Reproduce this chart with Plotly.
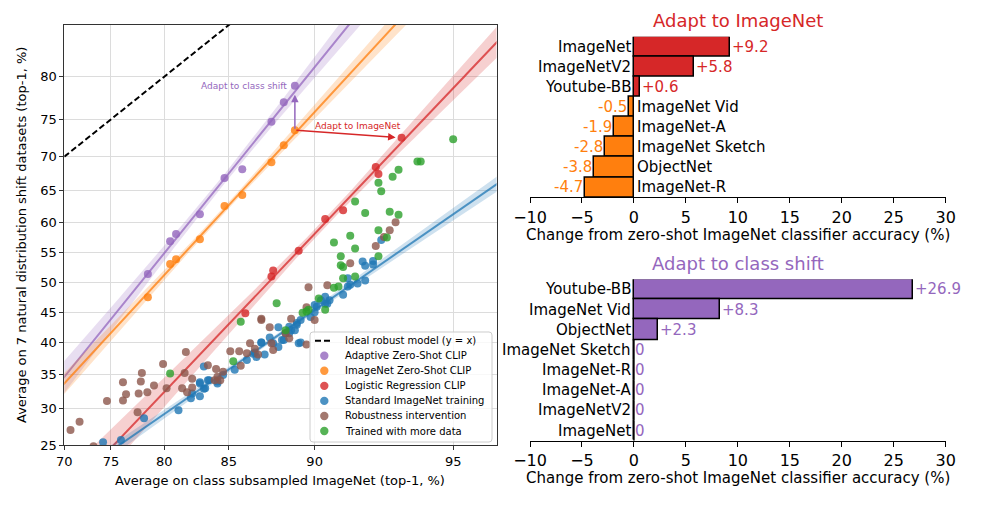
import numpy as np
import plotly.graph_objects as go

# ---------------- Left panel data (percent) ----------------
clip_x = [78.55, 80.5, 81.0, 82.9, 84.7, 85.9, 87.7, 88.4, 89.0]
adaptive_y = [51.4, 56.9, 58.1, 61.3, 66.9, 68.2, 74.7, 77.1, 79.0]
zeroshot_y = [47.5, 53.1, 53.9, 57.2, 62.6, 64.3, 69.2, 71.6, 73.6]
logreg_x = [86.1, 87.7, 87.8, 89.2, 90.5, 91.3, 92.6, 92.7, 93.5]
logreg_y = [44.8, 51.0, 52.0, 55.3, 60.5, 61.9, 68.5, 67.5, 72.6]

std_x = [74.2, 76.0, 78.2, 81.2, 82.2, 82.3, 82.9, 82.9, 83.2, 83.2, 83.6, 84.2, 84.6, 85.4, 86.2,
         86.6, 87.1, 87.3, 86.8, 87.8, 88.1, 88.3, 88.7, 89.0, 89.1, 89.3, 89.2, 89.8, 90.0, 90.1,
         90.3, 90.6, 90.7, 91.3, 91.5, 91.6, 91.9, 92.2, 90.5, 90.0, 90.5, 91.5, 92.1, 92.2, 92.5,
         92.5, 92.8, 89.3, 88.4, 88.8, 88.5, 83.5, 82.9, 83.3, 84.2, 86.7, 87.1, 87.6, 89.1, 88.7, 88.1]
std_y = [25.4, 25.7, 28.6, 29.7, 31.4, 32.1, 31.7, 33.6, 32.8, 36.2, 34.1, 33.9, 34.9, 35.7, 37.2,
         38.2, 40.0, 38.1, 37.7, 39.9, 39.3, 40.4, 41.5, 42.0, 43.2, 43.7, 39.9, 44.2, 45.0, 45.9,
         47.0, 46.4, 47.0, 47.9, 49.3, 49.6, 49.8, 50.3, 47.6, 46.2, 46.4, 50.7, 53.5, 52.8, 53.6,
         53.0, 57.1, 40.0, 40.4, 42.0, 41.5, 34.1, 33.8, 32.9, 33.6, 38.4, 40.0, 40.8, 42.9, 42.6, 42.5]

rob_x = [70.7, 71.7, 73.2, 74.6, 76.2, 76.5, 76.2, 77.6, 77.7, 77.9, 78.0, 78.5, 79.1, 79.9, 80.2,
         81.5, 81.7, 81.8, 81.9, 82.3, 82.3, 83.5, 84.1, 84.2, 84.6, 84.4, 84.0, 85.1, 85.7, 86.2,
         86.4, 86.7, 86.9, 85.8, 87.1, 87.6, 87.1, 87.7, 87.8, 88.5, 88.7, 88.8, 89.6, 89.7, 89.6,
         90.0, 90.6, 91.6, 92.6, 92.9, 93.1, 93.3]
rob_y = [27.0, 28.1, 24.9, 31.0, 31.1, 32.0, 33.8, 29.4, 32.1, 33.9, 35.2, 32.3, 33.3, 36.6, 32.9,
         32.9, 35.2, 38.5, 32.3, 33.0, 34.3, 36.4, 35.8, 34.6, 35.4, 34.1, 34.1, 38.6, 38.6, 38.3,
         39.9, 39.0, 38.1, 36.3, 43.7, 42.5, 43.9, 39.9, 38.8, 41.5, 40.7, 43.9, 39.7, 49.2, 45.8,
         43.7, 49.5, 53.2, 56.1, 57.6, 58.7, 60.0]

more_x = [80.5, 85.3, 85.8, 88.0, 89.4, 89.6, 88.5, 89.7, 90.2, 90.5, 90.9, 91.1, 91.3, 91.3, 91.2,
          91.2, 91.8, 91.8, 90.9, 91.6, 92.7, 92.7, 93.0, 92.2, 91.8, 93.1, 93.4, 92.7, 92.8, 93.2,
          93.4, 94.0, 94.1, 95.0]
more_y = [35.1, 37.0, 43.4, 46.5, 44.9, 45.1, 42.0, 45.4, 47.3, 45.4, 49.1, 49.3, 50.7, 52.6, 52.9,
          54.4, 51.0, 55.7, 56.7, 57.8, 54.4, 58.7, 57.5, 61.5, 63.3, 61.7, 61.2, 66.2, 64.9, 67.1,
          68.1, 69.3, 69.3, 72.4]

x_ticks = [70, 75, 80, 85, 90, 95]
y_ticks = [25, 30, 35, 40, 45, 50, 55, 60, 65, 70, 75, 80]
x_lim = [70, 96]
y_lim = [25, 85]

# ---------------- Right panel data ----------------
top_names = ["ImageNet", "ImageNetV2", "Youtube-BB", "ImageNet Vid", "ImageNet-A",
             "ImageNet Sketch", "ObjectNet", "ImageNet-R"]
top_vals = [9.2, 5.8, 0.6, -0.5, -1.9, -2.8, -3.8, -4.7]
bot_names = ["Youtube-BB", "ImageNet Vid", "ObjectNet", "ImageNet Sketch", "ImageNet-R",
             "ImageNet-A", "ImageNetV2", "ImageNet"]
bot_vals = [26.9, 8.3, 2.3, 0, 0, 0, 0, 0]
bar_ticks = [-10, -5, 0, 5, 10, 15, 20, 25, 30]

BLUE, ORANGE, GREEN, RED, PURPLE, BROWN = "#1f77b4", "#ff7f0e", "#2ca02c", "#d62728", "#9467bd", "#8c564b"
FONT = "DejaVu Sans"
W, H = 984, 507


def logit(p):
    p = np.asarray(p, dtype=float) / 100.0
    return np.log(p / (1 - p))


def rgba(hexc, a):
    h = hexc.lstrip("#")
    return "rgba(%d,%d,%d,%.3f)" % (int(h[0:2], 16), int(h[2:4], 16), int(h[4:6], 16), a)


def fit_band(xs, ys):
    X = logit(xs)
    Y = logit(ys)
    n = len(X)
    b, a = np.polyfit(X, Y, 1)
    xg = np.linspace(logit(x_lim[0]) - 0.02, logit(x_lim[1]) + 0.02, 240)
    yh = a + b * xg
    resid = Y - (a + b * X)
    s = np.sqrt(np.sum(resid ** 2) / (n - 2))
    sxx = np.sum((X - X.mean()) ** 2)
    dof = n - 2
    t = 1.96 + (1.96 ** 3 + 1.96) / (4 * dof)
    se = s * np.sqrt(1.0 / n + (xg - X.mean()) ** 2 / sxx)
    return xg, yh, yh - t * se, yh + t * se


fig = go.Figure()

# ideal line y = x
fig.add_trace(go.Scatter(x=logit(x_lim), y=logit(x_lim), mode="lines",
                         line=dict(color="black", width=2, dash="6px,3px"),
                         name="Ideal robust model (y = x)", xaxis="x", yaxis="y"))

groups = [
    (clip_x, adaptive_y, PURPLE),
    (clip_x, zeroshot_y, ORANGE),
    (logreg_x, logreg_y, RED),
    (std_x, std_y, BLUE),
]
for gx, gy, col in groups:
    xg, yh, lo, hi = fit_band(gx, gy)
    fig.add_trace(go.Scatter(x=np.concatenate([xg, xg[::-1]]), y=np.concatenate([lo, hi[::-1]]),
                             fill="toself", fillcolor=rgba(col, 0.22), line=dict(width=0),
                             mode="lines", hoverinfo="skip", xaxis="x", yaxis="y"))
    fig.add_trace(go.Scatter(x=xg, y=yh, mode="lines", line=dict(color=rgba(col, 0.75), width=2),
                             hoverinfo="skip", xaxis="x", yaxis="y"))

scatter_sets = [
    (clip_x, adaptive_y, PURPLE, "Adaptive Zero-Shot CLIP"),
    (clip_x, zeroshot_y, ORANGE, "ImageNet Zero-Shot CLIP"),
    (logreg_x, logreg_y, RED, "Logistic Regression CLIP"),
    (std_x, std_y, BLUE, "Standard ImageNet training"),
    (rob_x, rob_y, BROWN, "Robustness intervention"),
    (more_x, more_y, GREEN, "Trained with more data"),
]
for sx, sy, col, nm in scatter_sets:
    fig.add_trace(go.Scatter(x=logit(sx), y=logit(sy), mode="markers", name=nm,
                             marker=dict(color=col, size=8, opacity=0.8, line=dict(width=0)),
                             xaxis="x", yaxis="y"))

# ---------------- bar charts ----------------
def bar_colors(vals, pos, neg):
    return [pos if v >= 0 else neg for v in vals]

fig.add_trace(go.Bar(x=top_vals, y=list(range(len(top_vals))), orientation="h", width=1,
                     marker=dict(color=bar_colors(top_vals, RED, ORANGE), line=dict(color="black", width=1.5)),
                     xaxis="x2", yaxis="y2"))
fig.add_trace(go.Bar(x=bot_vals, y=list(range(len(bot_vals))), orientation="h", width=1,
                     marker=dict(color=PURPLE, line=dict(color="black", width=1.5)),
                     xaxis="x3", yaxis="y3"))

annotations = []
shapes = []


def bar_labels(names, vals, xr, yr, pos_col, neg_col):
    for i, (nm, v) in enumerate(zip(names, vals)):
        if v >= 0:
            annotations.append(dict(x=0, y=i, xref=xr, yref=yr, text=nm, showarrow=False,
                                    xanchor="right", yanchor="middle", xshift=-1,
                                    font=dict(size=15, color="black", family=FONT)))
        else:
            annotations.append(dict(x=0, y=i, xref=xr, yref=yr, text=nm, showarrow=False,
                                    xanchor="left", yanchor="middle", xshift=1,
                                    font=dict(size=15, color="black", family=FONT)))
        if v > 0:
            annotations.append(dict(x=v, y=i, xref=xr, yref=yr, text="+%.1f" % v, showarrow=False,
                                    xanchor="left", yanchor="middle", xshift=0,
                                    font=dict(size=15, color=pos_col, family=FONT)))
        elif v < 0:
            annotations.append(dict(x=v, y=i, xref=xr, yref=yr, text="-%.1f" % abs(v), showarrow=False,
                                    xanchor="right", yanchor="middle", xshift=0,
                                    font=dict(size=15, color=neg_col, family=FONT)))
        else:
            annotations.append(dict(x=0, y=i, xref=xr, yref=yr, text="0", showarrow=False,
                                    xanchor="left", yanchor="middle", xshift=-1,
                                    font=dict(size=15, color=pos_col, family=FONT)))
            shapes.append(dict(type="line", xref=xr, yref=yr, x0=0, x1=0, y0=i - 0.5, y1=i + 0.5,
                               line=dict(color="black", width=1.5)))


bar_labels(top_names, top_vals, "x2", "y2", RED, ORANGE)
bar_labels(bot_names, bot_vals, "x3", "y3", PURPLE, PURPLE)

# arrows and texts on scatter
ax0, ay0 = float(logit(clip_x[-1])), float(logit(zeroshot_y[-1]))
annotations.append(dict(x=float(logit(clip_x[-1])), y=float(logit(adaptive_y[-1])), ax=ax0, ay=ay0,
                        xref="x", yref="y", axref="x", ayref="y", text="", showarrow=True,
                        arrowhead=2, arrowsize=1, arrowwidth=1.5, arrowcolor=PURPLE, standoff=9))
annotations.append(dict(x=float(logit(logreg_x[-1])), y=float(logit(logreg_y[-1])), ax=ax0, ay=ay0,
                        xref="x", yref="y", axref="x", ayref="y", text="", showarrow=True,
                        arrowhead=2, arrowsize=1, arrowwidth=1.5, arrowcolor=RED, standoff=6))
annotations.append(dict(x=float(logit(clip_x[-1])), y=float(logit(adaptive_y[-1])), xref="x", yref="y",
                        text="Adapt to class shift", showarrow=False, xanchor="right", yanchor="middle",
                        xshift=-6, font=dict(size=9, color=PURPLE, family=FONT)))
annotations.append(dict(x=(ax0 + float(logit(logreg_x[-1]))) / 2, y=(ay0 + float(logit(logreg_y[-1]))) / 2,
                        xref="x", yref="y", text="Adapt to ImageNet", showarrow=False,
                        xanchor="center", yanchor="middle",
                        xshift=10, yshift=8, font=dict(size=9, color=RED, family=FONT)))


def paper_text(px, py, text, size, color, angle=0):
    return dict(x=px / W, y=1 - py / H, xref="paper", yref="paper", text=text, showarrow=False,
                xanchor="center", yanchor="middle", textangle=angle,
                font=dict(size=size, color=color, family=FONT))


annotations += [
    paper_text(280, 480, "Average on class subsampled ImageNet (top-1, %)", 13, "black"),
    paper_text(22, 235, "Average on 7 natural distribution shift datasets (top-1, %)", 13, "black", -90),
    paper_text(738, 235, "Change from zero-shot ImageNet classifier accuracy (%)", 15, "black"),
    paper_text(738, 478, "Change from zero-shot ImageNet classifier accuracy (%)", 15, "black"),
    paper_text(738, 20.7, "Adapt to ImageNet", 18, RED),
    paper_text(738, 263.3, "Adapt to class shift", 18, PURPLE),
]

# ---------------- custom legend (matplotlib-like, compact) ----------------
lg_left, lg_top, lg_right, lg_bottom = 310, 332, 492, 442
r = 3
L, R = lg_left / W, lg_right / W
T, B = 1 - lg_top / H, 1 - lg_bottom / H
rx, ry = r / W, r / H
path = ("M %f,%f L %f,%f Q %f,%f %f,%f L %f,%f Q %f,%f %f,%f L %f,%f Q %f,%f %f,%f L %f,%f Q %f,%f %f,%f Z" % (
    L + rx, T, R - rx, T, R, T, R, T - ry, R, B + ry, R, B, R - rx, B, L + rx, B, L, B, L, B + ry,
    L, T - ry, L, T, L + rx, T))
shapes.append(dict(type="path", xref="paper", yref="paper", path=path, layer="above",
                   fillcolor="rgba(255,255,255,0.8)", line=dict(color="#cccccc", width=1)))
legend_entries = [("Ideal robust model (y = x)", None)] + [(nm, col) for _, _, col, nm in scatter_sets]
row0, row_step = 340.7, 15.05
key_x, text_x = 324.3, 343
for k, (nm, col) in enumerate(legend_entries):
    ry_px = row0 + k * row_step
    yp = 1 - ry_px / H
    if col is None:
        shapes.append(dict(type="line", xref="paper", yref="paper", x0=315 / W, x1=333 / W, y0=yp, y1=yp,
                           layer="above", line=dict(color="black", width=2, dash="6px,3px")))
    else:
        shapes.append(dict(type="circle", xref="paper", yref="paper", xsizemode="pixel", ysizemode="pixel",
                           xanchor=key_x / W, yanchor=yp, x0=-4.2, x1=4.2, y0=-4.2, y1=4.2, layer="above",
                           fillcolor=rgba(col, 0.8), line=dict(width=0)))
    annotations.append(dict(x=text_x / W, y=yp, xref="paper", yref="paper", text=nm, showarrow=False,
                            xanchor="left", yanchor="middle", font=dict(size=10, color="black", family=FONT)))

left_axis_common = dict(showgrid=True, gridcolor="#dcdcdc", gridwidth=1, showline=True, mirror=True,
                        linecolor="#333333", linewidth=1, ticks="outside", ticklen=4, tickcolor="#333333",
                        zeroline=False, automargin=False, tickfont=dict(size=13, color="black", family=FONT))
bar_x_common = dict(range=[bar_ticks[0], bar_ticks[-1]], tickvals=bar_ticks, showgrid=False, zeroline=False,
                    showline=True, linecolor="black", linewidth=1, ticks="outside", ticklen=5,
                    tickcolor="black", tickfont=dict(size=16, color="black", family=FONT),
                    automargin=False, domain=[530 / W, 945.7 / W])

fig.update_layout(
    template="none",
    width=W, height=H, margin=dict(l=0, r=0, t=0, b=0, pad=0), autosize=False,
    paper_bgcolor="white", plot_bgcolor="white",
    font=dict(family=FONT, color="black"),
    bargap=0,
    showlegend=False,
    xaxis=dict(domain=[64.3 / W, 496.5 / W], range=[float(logit(x_lim[0])), float(logit(x_lim[1]))],
               tickvals=logit(x_ticks), ticktext=[str(v) for v in x_ticks], anchor="y", **left_axis_common),
    yaxis=dict(domain=[1 - 445.4 / H, 1 - 25 / H], range=[float(logit(y_lim[0])), float(logit(y_lim[1]))],
               tickvals=logit(y_ticks), ticktext=[str(v) for v in y_ticks], anchor="x", **left_axis_common),
    xaxis2=dict(anchor="y2", **bar_x_common),
    yaxis2=dict(domain=[1 - 197.3 / H, 1 - 36.7 / H], range=[len(top_vals) - 0.5, -0.5],
                visible=False, automargin=False, anchor="x2"),
    xaxis3=dict(anchor="y3", **bar_x_common),
    yaxis3=dict(domain=[1 - 440.7 / H, 1 - 279.3 / H], range=[len(bot_vals) - 0.5, -0.5],
                visible=False, automargin=False, anchor="x3"),
    annotations=annotations,
    shapes=shapes,
)

fig.write_html("out.html")
